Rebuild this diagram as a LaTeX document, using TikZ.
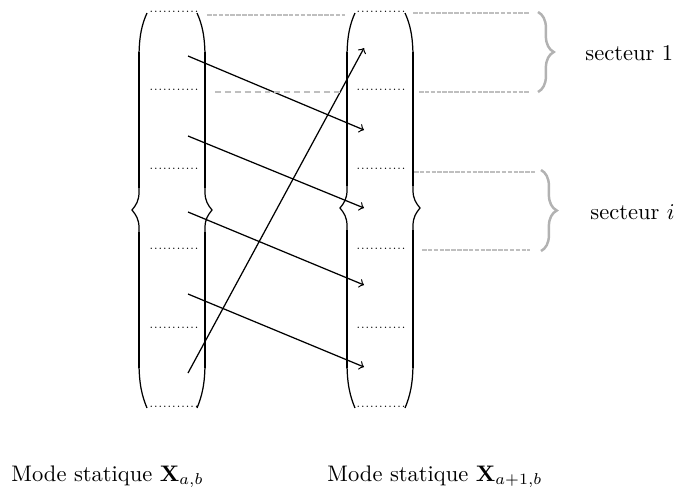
\documentclass[tikz,border=0pt]{standalone}
\usetikzlibrary{decorations.pathreplacing}
\newcommand{\mydelim}[3]{%
  \draw[delimthin] ({#1-8*#2},13) .. controls ({#1-3*#2},24) and (#1,36) .. (#1,58)
    -- (#1,{#3-18}) .. controls (#1,{#3-9}) and ({#1+3*#2},{#3-5}) .. ({#1+7*#2},#3)
    .. controls ({#1+3*#2},{#3+5}) and (#1,{#3+9}) .. (#1,{#3+18})
    -- (#1,362) .. controls (#1,384) and ({#1-3*#2},396) .. ({#1-8*#2},408);
  \draw[line width=0.8pt] (#1,52) -- (#1,{#3-22}) (#1,{#3+22}) -- (#1,368);
  \draw[line width=1.05pt] (#1,70) -- (#1,{#3-36}) (#1,{#3+36}) -- (#1,350);
  \draw[line width=1.3pt] (#1,95) -- (#1,{#3-60}) (#1,{#3+60}) -- (#1,325);
}
\begin{document}
\begin{tikzpicture}[x=0.444pt,y=-0.444pt,
  delimthin/.style={line width=0.55pt},
  entry/.style={font=\tiny, inner sep=0pt},
  flow/.style={->, line width=0.55pt},
  guide/.style={gray!50, line width=0.7pt, dash pattern=on 2pt off 0.6pt},
  guidedash/.style={gray!50, line width=0.7pt, dash pattern=on 2.6pt off 1.8pt},
  sectorbrace/.style={gray!60, line width=1.1pt, decorate, decoration={brace, amplitude=7pt}},
  txt/.style={inner sep=0pt, anchor=west}]
\useasboundingbox (0,0) rectangle (676,490);

% delimiters
\mydelim{139}{-1}{210}
\mydelim{205}{1}{210}
\mydelim{347}{-1}{208}
\mydelim{413}{1}{208}

% entries
\foreach \i/\y in {1/12,2/90,3/169,4/249,5/328,6/407}{
  \node[entry] (l\i) at (174,\y) {...........};
  \node[entry] (r\i) at (381,\y) {...........};
}

% arrow end points
\coordinate (s1) at (188,56);
\coordinate (s2) at (188,136);
\coordinate (s3) at (188,212);
\coordinate (s4) at (188,294);
\coordinate (s5) at (188,373);
\coordinate (e1) at (364,48);
\coordinate (e2) at (364,130);
\coordinate (e3) at (364,208);
\coordinate (e4) at (364,285);
\coordinate (e5) at (364,367);

\draw[flow] (s1) -- (e2);
\draw[flow] (s2) -- (e3);
\draw[flow] (s3) -- (e4);
\draw[flow] (s4) -- (e5);
\draw[flow] (s5) -- (e1);

% guide lines
\coordinate (ga1) at (207,15);  \coordinate (gb1) at (345,15);
\coordinate (ga2) at (215,92);  \coordinate (gb2) at (340,92);
\coordinate (ha1) at (413,13);  \coordinate (hb1) at (530,13);
\coordinate (ha2) at (419,92);  \coordinate (hb2) at (530,92);
\coordinate (ha3) at (414,172); \coordinate (hb3) at (535,172);
\coordinate (ha4) at (422,250); \coordinate (hb4) at (530,250);
\draw[guide] (ga1) -- (gb1);
\draw[guidedash] (ga2) -- (gb2);
\draw[guide] (ha1) -- (hb1);
\draw[guide] (ha2) -- (hb2);
\draw[guide] (ha3) -- (hb3);
\draw[guide] (ha4) -- (hb4);

% sector braces
\coordinate (b1t) at (538,12);  \coordinate (b1b) at (538,92);
\coordinate (b2t) at (541,170); \coordinate (b2b) at (541,251);
\draw[sectorbrace] (b1t) -- (b1b);
\draw[sectorbrace] (b2t) -- (b2b);

\node[txt] (sec1) at (585,53) {secteur 1};
\node[txt] (seci) at (590,212) {secteur $i$};

\node[txt] (lab1) at (11,477) {Mode statique $\mathbf{X}_{a,b}$};
\node[txt] (lab2) at (327,477) {Mode statique $\mathbf{X}_{a+1,b}$};
\end{tikzpicture}
\end{document}
